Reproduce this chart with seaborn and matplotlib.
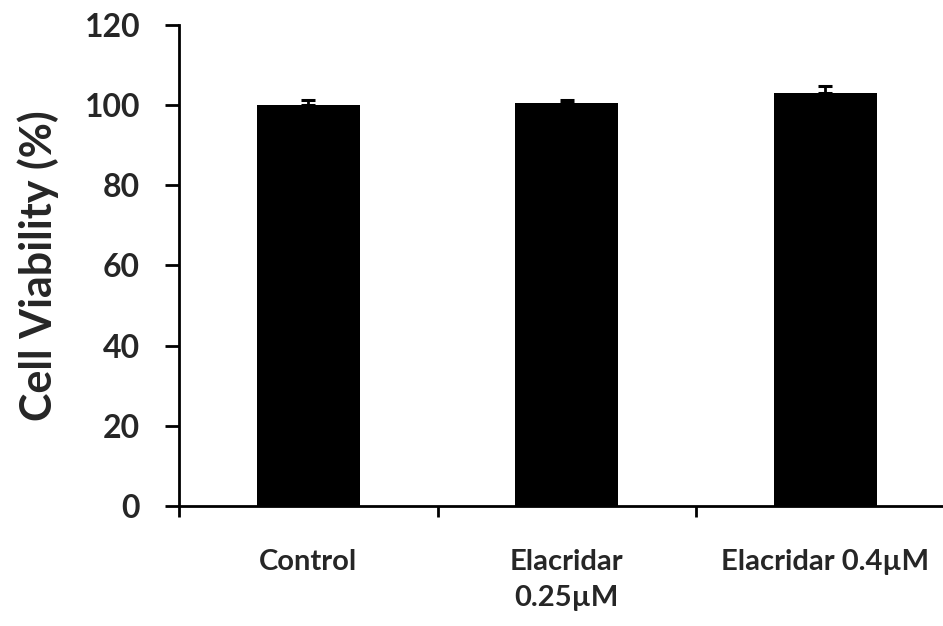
import matplotlib
matplotlib.use("Agg")
import matplotlib.pyplot as plt
import seaborn as sns
import pandas as pd
import numpy as np

# Cell viability per treatment (mean and upper SD)
categories = ["Control", "Elacridar\n0.25\u00b5M", "Elacridar 0.4\u00b5M"]
viability = [100.0, 100.6, 103.0]
viability_sd = [1.3, 0.7, 1.8]
y_ticks = [0, 20, 40, 60, 80, 100, 120]

sns.set_theme(style="white")
plt.rcParams["font.family"] = ["Lato", "DejaVu Sans"]
plt.rcParams["font.weight"] = "bold"

df = pd.DataFrame({"group": categories, "viability": viability})

fig = plt.figure(figsize=(9.43, 6.26), dpi=100)
ax = fig.add_axes([179 / 943, 1 - 506 / 626, (943 - 179) / 943, (506 - 25) / 626])

sns.barplot(data=df, x="group", y="viability", order=categories,
            color="black", saturation=1, width=0.4, errorbar=None, ax=ax,
            edgecolor="black", linewidth=0)

xpos = np.arange(len(categories))
ax.errorbar(xpos, viability, yerr=[np.zeros(len(viability_sd)), viability_sd],
            fmt="none", ecolor="black", elinewidth=2, capsize=5, capthick=2.2)

ax.set_ylim(0, 120)
ax.set_yticks(y_ticks)
ax.set_yticklabels([str(v) for v in y_ticks], fontsize=23, fontweight="bold")

# category boundaries carry the tick marks, labels sit on minor ticks
ax.set_xticks([-0.5, 0.5, 1.5, 2.5])
ax.set_xticklabels([])
ax.set_xticks(xpos, minor=True)
ax.set_xticklabels(categories, minor=True, fontsize=21, fontweight="bold",
                   linespacing=1.45, va="top")
ax.set_xlim(-0.5, -0.5 + (943 - 179) / 258.5)
ax.tick_params(axis="x", which="major", direction="out", length=8, width=2,
               color="black", bottom=True)
ax.tick_params(axis="x", which="minor", length=0, pad=31, bottom=True)
ax.tick_params(axis="y", direction="out", length=10, width=2, color="black",
               pad=18, left=True)

ax.set_xlabel("")
ax.set_ylabel("Cell Viability (%)", fontsize=31, fontweight="bold", labelpad=18)

for side in ["top", "right"]:
    ax.spines[side].set_visible(False)
for side in ["left", "bottom"]:
    ax.spines[side].set_color("black")
    ax.spines[side].set_linewidth(2)

fig.savefig("out.png", dpi=100, facecolor="white")
